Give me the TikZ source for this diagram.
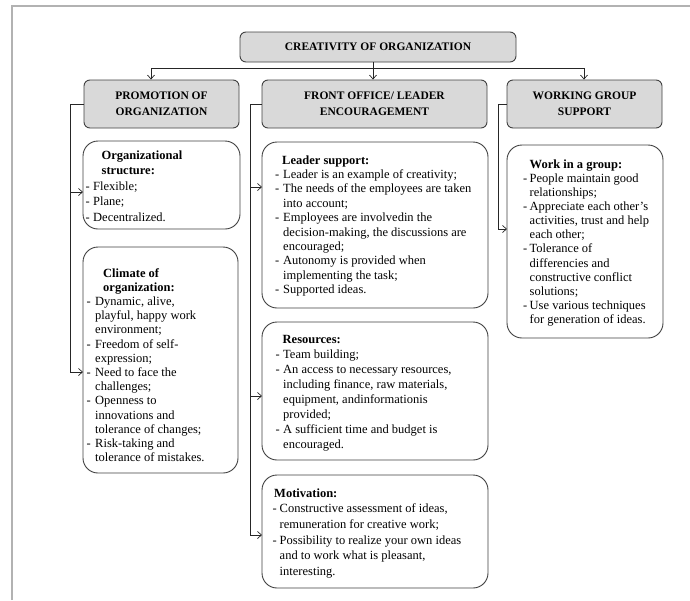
\documentclass[tikz,border=0pt]{standalone}
\usepackage{fontspec}
\setmainfont{Liberation Serif}
\usetikzlibrary{arrows.meta}
\newcommand{\Dsh}[1]{\makebox[#1][l]{-}}
\newcommand{\Ind}[1]{\hspace*{#1}}
\begin{document}
\begin{tikzpicture}[x=1pt,y=-1pt,
  hdr/.style={draw=black!75, line width=0.9pt, fill=black!15, rounded corners=6pt, inner sep=0pt, align=center, font=\fontsize{11.5}{16}\selectfont\bfseries},
  cbox/.style={draw=black!75, line width=0.9pt, fill=white, rounded corners=15pt, inner sep=0pt},
  body/.style={anchor=base west, inner sep=0pt},
  conn/.style={draw=black!85, line width=0.7pt},
  arr/.style={conn, -{Straight Barb[length=4pt,width=7pt]}},
]
\useasboundingbox (0,0) rectangle (690,600);
\draw[black!30, line width=1.5pt] (12,600) -- (12,6) -- (690,6);

% header boxes
\node[hdr, minimum width=276pt, minimum height=30pt] (top) at (378,47) {CREATIVITY OF ORGANIZATION};
\node[hdr, minimum width=155pt, minimum height=48pt] (promo) at (161.5,104) {PROMOTION OF\\ORGANIZATION};
\node[hdr, minimum width=225pt, minimum height=48pt] (front) at (374.5,104) {FRONT OFFICE/ LEADER\\ENCOURAGEMENT};
\node[hdr, minimum width=155pt, minimum height=48pt] (work) at (584.5,104) {WORKING GROUP\\SUPPORT};

% content boxes
\node[cbox, minimum width=157pt, minimum height=88pt] (orgs) at (161.5,185) {};
\node[cbox, minimum width=155pt, minimum height=226pt] (climate) at (160.5,360) {};
\node[cbox, minimum width=226pt, minimum height=166pt] (leader) at (375,225) {};
\node[cbox, minimum width=226pt, minimum height=138pt] (resources) at (375,391) {};
\node[cbox, minimum width=226pt, minimum height=113pt] (motivation) at (375,531.5) {};
\node[cbox, minimum width=156pt, minimum height=193pt] (working) at (585,241.5) {};

% texts
\node[body, font=\fontsize{12.5}{15.5}\selectfont] (orgsT) at (85.5,159) {\begin{tabular}[t]{@{}l@{}}
\Ind{16pt}\textbf{Organizational}\\
\Ind{16pt}\textbf{structure:}\\
\Dsh{7.5pt}Flexible;\\
\Dsh{7.5pt}Plane;\\
\Dsh{7.5pt}Decentralized.
\end{tabular}};

\node[body, font=\fontsize{12.5}{14.2}\selectfont] (climateT) at (86.5,277) {\begin{tabular}[t]{@{}l@{}}
\Ind{16.5pt}\textbf{Climate of}\\
\Ind{16.5pt}\textbf{organization:}\\
\Dsh{8.5pt}Dynamic, alive,\\
\Ind{8.5pt}playful, happy work\\
\Ind{8.5pt}environment;\\
\Dsh{8.5pt}Freedom of self-\\
\Ind{8.5pt}expression;\\
\Dsh{8.5pt}Need to face the\\
\Ind{8.5pt}challenges;\\
\Dsh{8.5pt}Openness to\\
\Ind{8.5pt}innovations and\\
\Ind{8.5pt}tolerance of changes;\\
\Dsh{8.5pt}Risk-taking and\\
\Ind{8.5pt}tolerance of mistakes.
\end{tabular}};

\node[body, font=\fontsize{12.5}{14.4}\selectfont] (leaderT) at (275,164) {\begin{tabular}[t]{@{}l@{}}
\Ind{7pt}\textbf{Leader support:}\\
\Dsh{8pt}Leader is an example of creativity;\\
\Dsh{8pt}The needs of the employees are taken\\
\Ind{8pt}into account;\\
\Dsh{8pt}Employees are involvedin the\\
\Ind{8pt}decision-making, the discussions are\\
\Ind{8pt}encouraged;\\
\Dsh{8pt}Autonomy is provided when\\
\Ind{8pt}implementing the task;\\
\Dsh{8pt}Supported ideas.
\end{tabular}};

\node[body, font=\fontsize{12.5}{15.1}\selectfont] (resourcesT) at (275.5,343) {\begin{tabular}[t]{@{}l@{}}
\Ind{7pt}\textbf{Resources:}\\
\Dsh{7.5pt}Team building;\\
\Dsh{7.5pt}An access to necessary resources,\\
\Ind{7.5pt}including finance, raw materials,\\
\Ind{7.5pt}equipment, andinformationis\\
\Ind{7.5pt}provided;\\
\Dsh{7.5pt}A sufficient time and budget is\\
\Ind{7.5pt}encouraged.
\end{tabular}};

\node[body, font=\fontsize{12.5}{15.7}\selectfont] (motivationT) at (272.5,497) {\begin{tabular}[t]{@{}l@{}}
\Ind{1.5pt}\textbf{Motivation:}\\
\Dsh{7pt}Constructive assessment of ideas,\\
\Ind{7pt}remuneration for creative work;\\
\Dsh{7pt}Possibility to realize your own ideas\\
\Ind{7pt}and to work what is pleasant,\\
\Ind{7pt}interesting.
\end{tabular}};

\node[body, font=\fontsize{12.5}{14.15}\selectfont] (workingT) at (523,168) {\begin{tabular}[t]{@{}l@{}}
\Ind{6.5pt}\textbf{Work in a group:}\\
\Dsh{6.5pt}People maintain good\\
\Ind{6.5pt}relationships;\\
\Dsh{6.5pt}Appreciate each other's\\
\Ind{6.5pt}activities, trust and help\\
\Ind{6.5pt}each other;\\
\Dsh{6.5pt}Tolerance of\\
\Ind{6.5pt}differencies and\\
\Ind{6.5pt}constructive conflict\\
\Ind{6.5pt}solutions;\\
\Dsh{6.5pt}Use various techniques\\
\Ind{6.5pt}for generation of ideas.
\end{tabular}};

% top connectors
\coordinate (hL) at (151,68);
\coordinate (hM) at (373,68);
\coordinate (hR) at (584,68);
\draw[conn] (hL) -- (hR);
\draw[conn] (top.south -| hM) -- (hM);
\draw[arr] (hL) -- (hL |- promo.north);
\draw[arr] (hM) -- (hM |- front.north);
\draw[arr] (hR) -- (hR |- work.north);

% promotion branch
\coordinate (pX) at (70,372);
\coordinate (oA) at (83,192);
\coordinate (cA) at (83,372);
\draw[conn] (promo.west) -| (pX);
\draw[arr] (oA -| pX) -- (oA);
\draw[arr] (pX) -- (cA);

% front office branch
\coordinate (fX) at (250,535);
\coordinate (lA) at (262,187);
\coordinate (rA) at (262,396);
\coordinate (mA) at (262,535);
\draw[conn] (front.west) -| (fX);
\draw[arr] (lA -| fX) -- (lA);
\draw[arr] (rA -| fX) -- (rA);
\draw[arr] (fX) -- (mA);

% working group branch
\coordinate (wX) at (498,229);
\coordinate (wA) at (507,229);
\draw[conn] (work.west) -| (wX);
\draw[arr] (wX) -- (wA);
\end{tikzpicture}
\end{document}
